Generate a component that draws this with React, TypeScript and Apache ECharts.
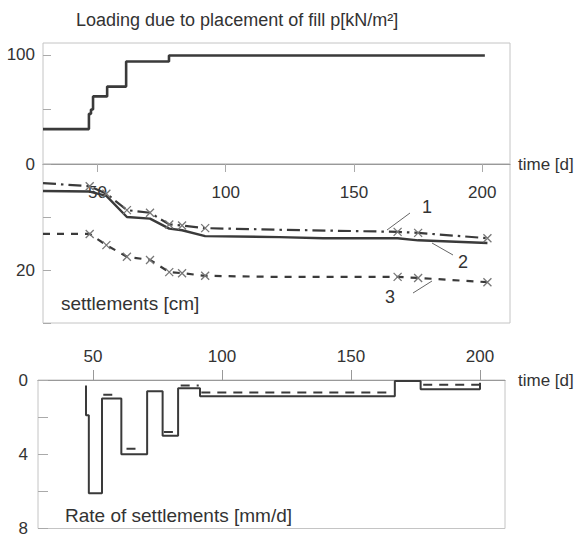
import React, { useEffect, useRef } from "react";
import * as echarts from "echarts";

// ---------- data ----------
// Loading due to placement of fill p [kN/m²]
const loadTime = [28.8, 46.7, 46.7, 47.5, 47.5, 48.3, 48.3, 53.8, 53.8, 61.2, 61.2, 77.9, 77.9, 201];
const loadValue = [32, 32, 46, 46, 50, 50, 62, 62, 71, 71, 94, 94, 99.5, 99.5];

// Settlements [cm]
const settleTime = [28.8, 47, 53.5, 61.5, 70.5, 78, 83, 92, 120, 167, 175, 202];
const settle1 = [3.6, 4.2, 5.6, 8.7, 9.2, 11.4, 11.6, 12.1, 12.4, 12.8, 13.0, 14.0];
const settle3 = [13.2, 13.2, 15.3, 17.5, 18.1, 20.4, 20.6, 21.1, 21.3, 21.3, 21.5, 22.3];
const settle2Time = [28.8, 47, 53.5, 61.5, 70.5, 78, 83, 92, 121, 138, 167, 175, 202];
const settle2 = [5.1, 5.2, 6.0, 10.0, 10.3, 12.2, 12.5, 13.6, 13.8, 14.0, 14.0, 14.4, 14.9];
const noMarkerIdx = [0, 8];

// Rate of settlements [mm/d] (solid step line)
const rateTime = [47.3, 47.3, 48.4, 48.4, 53.5, 53.5, 61, 61, 71, 71, 77, 77, 83, 83, 91.5, 91.5, 167, 167, 177, 177, 200, 200];
const rateValue = [0.3, 1.9, 1.9, 6.1, 6.1, 1.0, 1.0, 4.0, 4.0, 0.6, 0.6, 3.0, 3.0, 0.45, 0.45, 0.88, 0.88, 0.05, 0.05, 0.5, 0.5, 0.15];
// Rate of settlements, dashed pieces
const rateDashStart = [54, 63, 77.5, 84, 92, 178];
const rateDashEnd = [60, 68, 82.5, 91, 166, 200];
const rateDashValue = [0.8, 3.7, 2.8, 0.3, 0.67, 0.25];

// axis ticks
const timeTicks = [50, 100, 150, 200];

const FONT = '"Liberation Sans", Arial, sans-serif';
const INK = "#3a3a3a";
const TXT = "#333";
const BORDER = "#c4c4c4";

export default function App() {
  const ref = useRef<HTMLDivElement>(null);
  useEffect(() => {
    if (!ref.current) return;
    const chart = echarts.init(ref.current, null, { renderer: "svg" });

    const pairs = (xs: number[], ys: number[]) => xs.map((x, i) => [x, ys[i]]);
    const marked = (xs: number[], ys: number[]) =>
      xs.map((x, i) =>
        noMarkerIdx.includes(i) ? { value: [x, ys[i]], symbol: "none" } : { value: [x, ys[i]] }
      );
    const dashData: any[] = [];
    rateDashStart.forEach((s, i) => {
      dashData.push([s, rateDashValue[i]]);
      dashData.push([rateDashEnd[i], rateDashValue[i]]);
      dashData.push([rateDashEnd[i], "-"]);
    });

    const cross = "path://M0,0L10,10M10,0L0,10";
    const tickLabel = { fontSize: 17, color: TXT, fontFamily: FONT };

    const option: any = {
      animation: false,
      backgroundColor: "#fff",
      grid: [
        { left: 43, top: 43, width: 467, height: 121, show: true, borderColor: BORDER, borderWidth: 1 },
        { left: 43, top: 164, width: 467, height: 159, show: true, borderColor: BORDER, borderWidth: 1 },
        { left: 38, top: 380, width: 467, height: 154, show: true, borderColor: BORDER, borderWidth: 1 },
      ],
      xAxis: [
        { gridIndex: 0, type: "value", min: 28.8, max: 210.8, show: false },
        {
          gridIndex: 1,
          type: "value",
          min: 28.8,
          max: 210.8,
          position: "top",
          axisLine: { show: true, lineStyle: { color: "#999", width: 1.2 } },
          axisTick: { show: true, inside: true, length: 8, customValues: timeTicks, lineStyle: { color: "#aaa" } },
          axisLabel: { inside: true, margin: 20, customValues: timeTicks, ...tickLabel },
          splitLine: { show: false },
          name: "time [d]",
          nameLocation: "end",
          nameGap: 8,
          nameTextStyle: { fontSize: 17, color: TXT, fontFamily: FONT },
        },
        {
          gridIndex: 2,
          type: "value",
          min: 28.7,
          max: 209.7,
          position: "top",
          axisLine: { show: true, lineStyle: { color: "#999", width: 1.2 } },
          axisTick: { show: true, inside: false, length: 10, customValues: timeTicks, lineStyle: { color: "#999" } },
          axisLabel: { inside: false, margin: 15, customValues: timeTicks, ...tickLabel },
          splitLine: { show: false },
          name: "time [d]",
          nameLocation: "end",
          nameGap: 13,
          nameTextStyle: { fontSize: 17, color: TXT, fontFamily: FONT },
        },
      ],
      yAxis: [
        {
          gridIndex: 0,
          type: "value",
          min: 0,
          max: 111,
          interval: 50,
          axisLine: { show: false },
          axisTick: { show: true, inside: true, length: 8, lineStyle: { color: "#aaa" } },
          axisLabel: { margin: 8, formatter: (v: number) => (v === 50 ? "" : String(v)), ...tickLabel },
          splitLine: { show: false },
        },
        {
          gridIndex: 1,
          type: "value",
          min: 0,
          max: 30,
          interval: 10,
          inverse: true,
          axisLine: { show: false },
          axisTick: { show: true, inside: true, length: 8, lineStyle: { color: "#aaa" } },
          axisLabel: { margin: 8, formatter: (v: number) => (v === 20 ? "20" : ""), ...tickLabel },
          splitLine: { show: false },
        },
        {
          gridIndex: 2,
          type: "value",
          min: 0,
          max: 8,
          interval: 2,
          inverse: true,
          axisLine: { show: false },
          axisTick: { show: true, inside: true, length: 10, lineStyle: { color: "#aaa" } },
          axisLabel: { margin: 10, formatter: (v: number) => (v % 4 === 0 ? String(v) : ""), ...tickLabel },
          splitLine: { show: false },
        },
      ],
      series: [
        {
          type: "line",
          xAxisIndex: 0,
          yAxisIndex: 0,
          data: pairs(loadTime, loadValue),
          symbol: "none",
          lineStyle: { color: INK, width: 2.6 },
        },
        {
          name: "1",
          type: "line",
          xAxisIndex: 1,
          yAxisIndex: 1,
          data: marked(settleTime, settle1),
          symbol: cross,
          symbolSize: 8,
          itemStyle: { color: "rgba(0,0,0,0)", borderColor: "#777", borderWidth: 1.3 },
          lineStyle: { color: INK, width: 2.2, type: [13, 5, 2.5, 5] },
        },
        {
          name: "2",
          type: "line",
          xAxisIndex: 1,
          yAxisIndex: 1,
          data: pairs(settle2Time, settle2),
          symbol: "none",
          lineStyle: { color: INK, width: 2.4 },
        },
        {
          name: "3",
          type: "line",
          xAxisIndex: 1,
          yAxisIndex: 1,
          data: marked(settleTime, settle3),
          symbol: cross,
          symbolSize: 8,
          itemStyle: { color: "rgba(0,0,0,0)", borderColor: "#777", borderWidth: 1.3 },
          lineStyle: { color: INK, width: 2.2, type: [7, 7] },
        },
        {
          type: "line",
          xAxisIndex: 2,
          yAxisIndex: 2,
          data: pairs(rateTime, rateValue),
          symbol: "none",
          lineStyle: { color: INK, width: 2 },
        },
        {
          type: "line",
          xAxisIndex: 2,
          yAxisIndex: 2,
          data: dashData,
          symbol: "none",
          connectNulls: false,
          lineStyle: { color: INK, width: 2, type: [9, 7] },
        },
      ],
      graphic: [
        {
          type: "text",
          x: 76,
          y: 20,
          style: { text: "Loading due to placement of fill p[kN/m²]", font: `18px ${FONT}`, fill: TXT, verticalAlign: "middle", align: "left" },
        },
        {
          type: "text",
          x: 61,
          y: 303,
          style: { text: "settlements [cm]", font: `19px ${FONT}`, fill: TXT, verticalAlign: "middle", align: "left" },
        },
        {
          type: "text",
          x: 65,
          y: 515,
          style: { text: "Rate of settlements [mm/d]", font: `19px ${FONT}`, fill: TXT, verticalAlign: "middle", align: "left" },
        },
        { type: "line", shape: { x1: 387, y1: 230, x2: 410, y2: 213 }, style: { stroke: "#666", lineWidth: 1 } },
        { type: "text", x: 427, y: 207, style: { text: "1", font: `18px ${FONT}`, fill: TXT, verticalAlign: "middle", align: "center" } },
        { type: "line", shape: { x1: 432, y1: 243, x2: 453, y2: 255 }, style: { stroke: "#666", lineWidth: 1 } },
        { type: "text", x: 463, y: 262, style: { text: "2", font: `18px ${FONT}`, fill: TXT, verticalAlign: "middle", align: "center" } },
        { type: "line", shape: { x1: 432, y1: 281, x2: 413, y2: 293 }, style: { stroke: "#666", lineWidth: 1 } },
        { type: "text", x: 390, y: 297, style: { text: "3", font: `18px ${FONT}`, fill: TXT, verticalAlign: "middle", align: "center" } },
      ],
    };

    chart.setOption(option);
    return () => chart.dispose();
  }, []);

  return <div ref={ref} style={{ position: "fixed", left: 0, top: 0, width: 581, height: 537 }} />;
}
